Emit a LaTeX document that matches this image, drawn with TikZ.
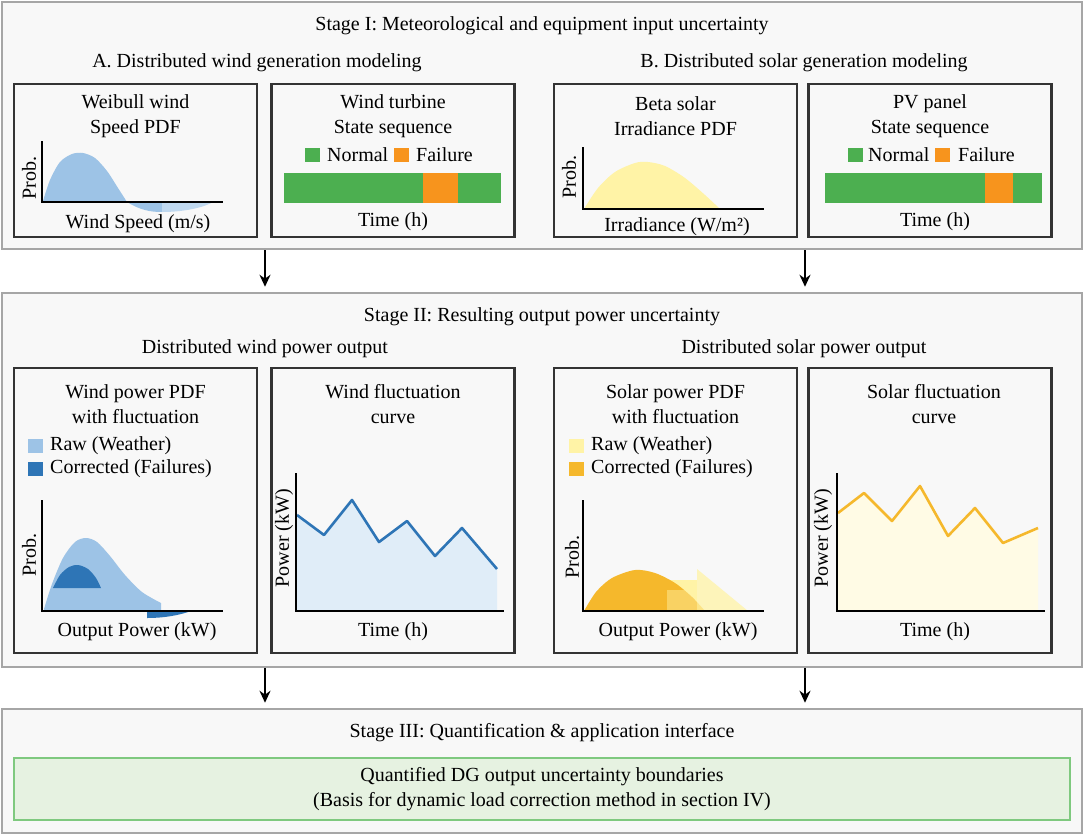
\documentclass[tikz,border=0pt]{standalone}
\usepackage{fontspec}
\setmainfont{Liberation Serif}
\usetikzlibrary{arrows.meta,positioning}
\definecolor{stFill}{RGB}{248,248,248}
\definecolor{stLine}{RGB}{166,166,166}
\definecolor{pLine}{RGB}{51,51,51}
\definecolor{rawBlue}{RGB}{157,195,230}
\definecolor{corBlue}{RGB}{46,117,182}
\definecolor{flucBlue}{RGB}{224,237,248}
\definecolor{rawYel}{RGB}{255,243,166}
\definecolor{corOrg}{RGB}{245,184,44}
\definecolor{flucYel}{RGB}{255,251,229}
\definecolor{okGreen}{RGB}{76,175,80}
\definecolor{failOrg}{RGB}{247,148,29}
\definecolor{qFill}{RGB}{230,242,225}
\definecolor{qLine}{RGB}{127,201,127}
\tikzset{
    stage/.style={rectangle, draw=stLine, fill=stFill, line width=2.5pt, minimum width=1080pt},
    panel/.style={rectangle, draw=pLine, line width=2.2pt, minimum width=243pt},
    lbl/.style={align=center, inner sep=0pt},
    sq/.style={rectangle, inner sep=0pt, minimum width=15pt, minimum height=14pt},
    axis/.style={line width=2.4pt, black},
    arr/.style={line width=2pt, -{Stealth[length=12pt,width=11pt]}}
}

\begin{document}
\begin{tikzpicture}[x=1pt,y=-1pt,font=\fontsize{20}{25}\selectfont]
\useasboundingbox (0,0) rectangle (1084,835);
\fill[white] (0,0) rectangle (1084,835);
\coordinate (colW) at (265,0);
\coordinate (colS) at (805,0);

% stage boxes
\node[stage, minimum height=247pt] (stageI) at (542,125.5) {};
\node[stage, minimum height=374pt] (stageII) at (542,480) {};
\node[stage, minimum height=124pt] (stageIII) at (542,771) {};

\node[lbl] (tStageI) at (542,26) {Stage I: Meteorological and equipment input uncertainty};
\node[lbl] (tWindGen) at (257,63) {A. Distributed wind generation modeling};
\node[lbl] (tSolarGen) at (804,63) {B. Distributed solar generation modeling};

% stage I panels
\node[panel, minimum height=153pt] (pWeib) at (135.5,160.5) {};
\node[panel, minimum height=153pt] (pTurb) at (393,160.5) {};
\node[panel, minimum height=153pt] (pBeta) at (675.5,160.5) {};
\node[panel, minimum height=153pt] (pPV) at (930,160.5) {};

% Weibull wind speed
\node[lbl] (tWeib) at (135.5,116.5) {Weibull wind\\Speed PDF};
\fill[rawBlue] plot[smooth] coordinates {(43,201) (50,180) (60,162) (72,154) (83,153) (95,158) (107,171) (118,188) (127,202)} -- cycle;
\fill[rawBlue] (127,202) .. controls (140,210) and (150,212) .. (162,212) -- (162,202) -- cycle;
\fill[rawBlue!65] (162,202) -- (162,212) .. controls (185,212) and (205,207) .. (213,202) -- cycle;
\draw[axis] (42,141) -- (42,202) -- (223,202);
\node[lbl, rotate=90] (yWeib) at (29,178) {Prob.};
\node[lbl] (xWeib) at (138,224) {Wind Speed (m/s)};

% wind turbine state
\node[lbl] (tTurb) at (393,116.5) {Wind turbine\\State sequence};
\node[sq, fill=okGreen] (gTurb) at (312.5,154.5) {};
\node[lbl, anchor=west] (nTurb) at (327,155) {Normal};
\node[sq, fill=failOrg] (oTurb) at (401.5,154.5) {};
\node[lbl, anchor=west] (fTurb) at (416,155) {Failure};
\fill[okGreen] (284,173) rectangle (501,203);
\fill[failOrg] (423,173) rectangle (458,203);
\node[lbl] (xTurb) at (393,222) {Time (h)};

% beta irradiance
\node[lbl] (tBeta) at (675.5,116.5) {Beta solar\\Irradiance PDF};
\fill[rawYel] plot[smooth] coordinates {(584,209) (598,188) (615,172) (635,163) (648,162) (665,166) (685,178) (705,195) (720,209)} -- cycle;
\draw[axis] (583,147) -- (583,209) -- (764,209);
\node[lbl, rotate=90] (yBeta) at (569,177) {Prob.};
\node[lbl] (xBeta) at (677,227) {Irradiance (W/m²)};

% PV panel state
\node[lbl] (tPV) at (930,116.5) {PV panel\\State sequence};
\node[sq, fill=okGreen] (gPV) at (855,154.5) {};
\node[lbl, anchor=west] (nPV) at (868,155) {Normal};
\node[sq, fill=failOrg] (oPV) at (942.5,154.5) {};
\node[lbl, anchor=west] (fPV) at (958,155) {Failure};
\fill[okGreen] (825,173) rectangle (1042,203);
\fill[failOrg] (985,173) rectangle (1013,203);
\node[lbl] (xPV) at (935,222) {Time (h)};

\draw[arr] (stageI.south -| colW) -- ([yshift=5pt]stageII.north -| colW);
\draw[arr] (stageI.south -| colS) -- ([yshift=5pt]stageII.north -| colS);

\node[lbl] (tStageII) at (542,317) {Stage II: Resulting output power uncertainty};
\node[lbl] (tWindOut) at (265,349) {Distributed wind power output};
\node[lbl] (tSolarOut) at (804,349) {Distributed solar power output};

% stage II panels
\node[panel, minimum height=285pt] (pWPdf) at (135.5,510.5) {};
\node[panel, minimum height=285pt] (pWFl) at (393,510.5) {};
\node[panel, minimum height=285pt] (pSPdf) at (675.5,510.5) {};
\node[panel, minimum height=285pt] (pSFl) at (930,510.5) {};

% wind power pdf
\node[lbl] (tWPdf) at (135.5,404) {Wind power PDF\\with fluctuation};
\node[sq, fill=rawBlue] (lRawW) at (35.5,446) {};
\node[lbl, anchor=west] (lRawWt) at (50,446) {Raw (Weather)};
\node[sq, fill=corBlue] (lCorW) at (35.5,469) {};
\node[lbl, anchor=west] (lCorWt) at (50,469) {Corrected (Failures)};
\fill[rawBlue] plot[smooth] coordinates {(44,609) (52,584) (63,558) (75,542) (86,538) (97,542) (110,556) (125,575) (142,592) (161,603)} -- (161,611) -- (44,611) -- cycle;
\fill[corBlue] plot[smooth] coordinates {(53,588) (60,575) (69,567) (78,565) (88,569) (96,578) (101,588)} -- cycle;
\fill[corBlue] (147,611) -- (147,618) .. controls (165,618) and (180,615) .. (191,611) -- cycle;
\draw[axis] (42,500) -- (42,611) -- (223,611);
\node[lbl, rotate=90] (yWPdf) at (29,555) {Prob.};
\node[lbl] (xWPdf) at (137,632) {Output Power (kW)};

% wind fluctuation
\node[lbl] (tWFl) at (393,404) {Wind fluctuation\\curve};
\fill[flucBlue] (297,611) -- plot coordinates {(297,515) (324,535) (352,500) (379,542) (407,521) (435,556) (462,528) (497,569)} -- (497,611) -- cycle;
\draw[corBlue, line width=2.6pt, line join=round] plot coordinates {(297,515) (324,535) (352,500) (379,542) (407,521) (435,556) (462,528) (497,569)};
\draw[axis] (296,473) -- (296,611) -- (504,611);
\node[lbl, rotate=90] (yWFl) at (284,538) {Power (kW)};
\node[lbl] (xWFl) at (393,632) {Time (h)};

% solar power pdf
\node[lbl] (tSPdf) at (675.5,404) {Solar power PDF\\with fluctuation};
\node[sq, fill=rawYel] (lRawS) at (576.5,446) {};
\node[lbl, anchor=west] (lRawSt) at (591,446) {Raw (Weather)};
\node[sq, fill=corOrg] (lCorS) at (576.5,469) {};
\node[lbl, anchor=west] (lCorSt) at (591,469) {Corrected (Failures)};
\fill[rawYel] (668,580) -- (697,580) -- (697,611) -- (668,611) -- cycle;
\fill[corOrg] plot[smooth] coordinates {(584,611) (596,592) (612,578) (635,570) (655,573) (675,583) (692,597) (705,611)} -- cycle;
\fill[rawYel, opacity=0.45] (667,590) rectangle (697,611);
\fill[rawYel, opacity=0.75] (697,569) -- (748,611) -- (697,611) -- cycle;
\draw[axis] (583,500) -- (583,611) -- (764,611);
\node[lbl, rotate=90] (ySPdf) at (572,557) {Prob.};
\node[lbl] (xSPdf) at (678,632) {Output Power (kW)};

% solar fluctuation
\node[lbl] (tSFl) at (934,404) {Solar fluctuation\\curve};
\fill[flucYel] (838,611) -- plot coordinates {(838,513) (864,493) (892,521) (920,486) (948,536) (975,508) (1003,543) (1038,528)} -- (1038,611) -- cycle;
\draw[corOrg, line width=2.6pt, line join=round] plot coordinates {(838,513) (864,493) (892,521) (920,486) (948,536) (975,508) (1003,543) (1038,528)};
\draw[axis] (837,473) -- (837,611) -- (1045,611);
\node[lbl, rotate=90] (ySFl) at (823,538) {Power (kW)};
\node[lbl] (xSFl) at (935,632) {Time (h)};

\draw[arr] (stageII.south -| colW) -- ([yshift=5pt]stageIII.north -| colW);
\draw[arr] (stageII.south -| colS) -- ([yshift=5pt]stageIII.north -| colS);

% stage III
\node[lbl] (tStageIII) at (542,733) {Stage III: Quantification \& application interface};
\node[rectangle, draw=qLine, fill=qFill, line width=2.5pt, minimum width=1056pt, minimum height=62pt, align=center] (qBox) at (542,789)
    {Quantified DG output uncertainty boundaries\\(Basis for dynamic load correction method in section IV)};
\end{tikzpicture}
\end{document}
